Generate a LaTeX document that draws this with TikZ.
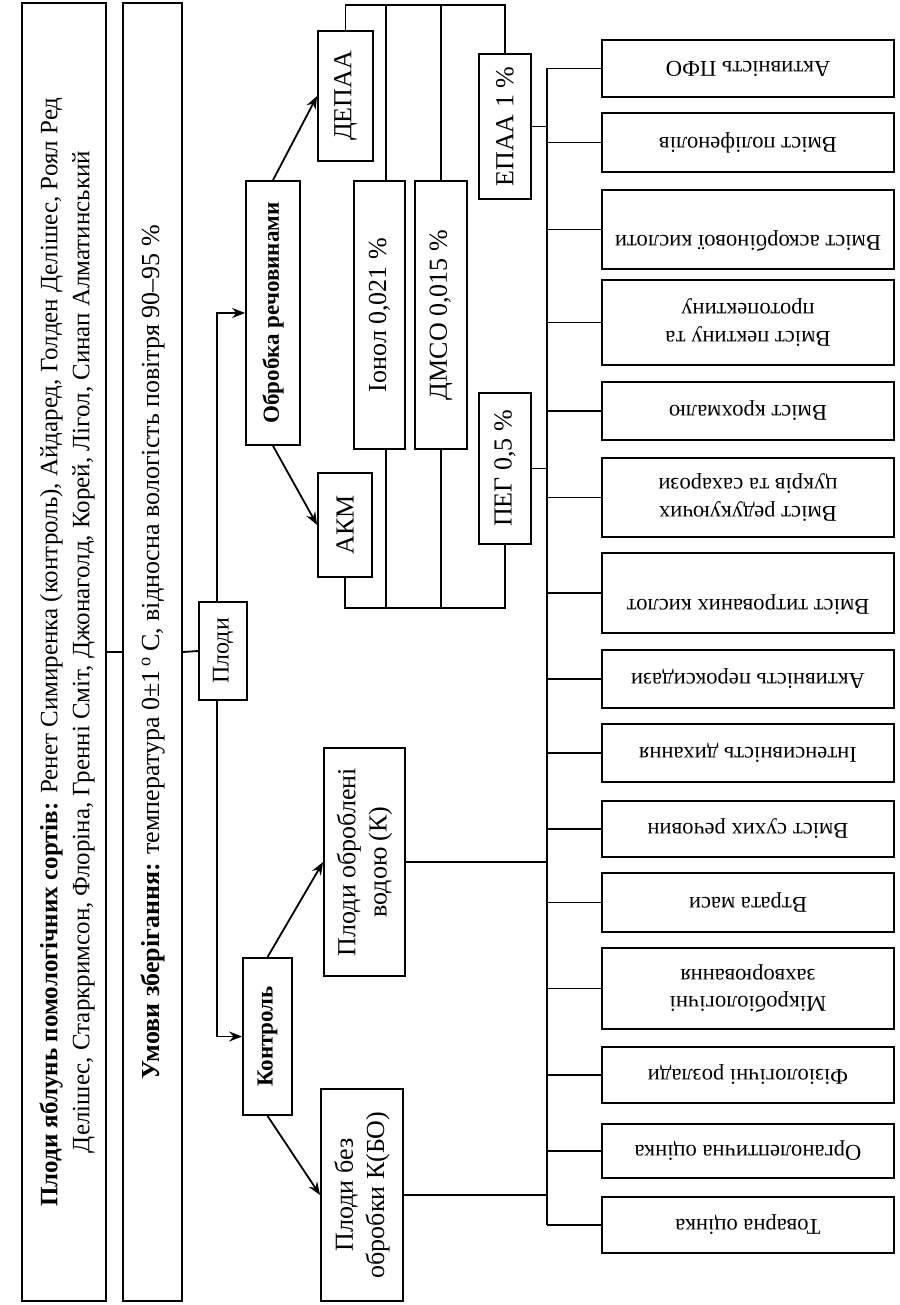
\documentclass[tikz,border=0pt]{standalone}
\usepackage{fontspec}
\setmainfont{Liberation Serif}
\usetikzlibrary{fit,arrows.meta}
\begin{document}
\begin{tikzpicture}[x=0.5pt,y=-0.5pt,
  bx/.style={draw, line width=0.9pt, inner sep=0pt},
  tv/.style={rotate=90, inner sep=0pt, align=center},
  tr/.style={rotate=180, inner sep=0pt, align=center, font=\fontsize{11.3}{13.6}\selectfont},
  ln/.style={line width=0.9pt},
  arr/.style={line width=0.9pt, -{Stealth[length=6.5pt,width=5pt,inset=2.2pt]}},
  mf/.style={font=\fontsize{13}{15.6}\selectfont}]
\useasboundingbox (0,0) rectangle (899,1305);

% left bands
\node[bx, fit={(22,3)(106,1301)}] (a) {};
\node[tv, font=\fontsize{12.5}{16}\selectfont] (at) at ([xshift=1.5pt]a.center) {\textbf{Плоди яблунь помологічних сортів:} Ренет Симиренка (контроль), Айдаред, Голден Делішес, Роял Ред\\ Делішес, Старкримсон, Флоріна, Гренні Сміт, Джонаголд, Корей, Лігол, Синап Алматинський};
\node[bx, fit={(123,3)(182,1301)}] (b) {};
\node[tv, mf] (bt-t) at (b.center) {\textbf{Умови зберігання:} температура 0±1\,\textsuperscript{o}\,С, відносна вологість повітря 90–95 \%};

\node[bx, fit={(199,602)(247,700)}] (plody) {};
\node[tv, font=\fontsize{12}{14}\selectfont] (plody-t) at (plody.center) {Плоди};
\node[bx, fit={(246,181)(300,445)}] (obr) {};
\node[tv, font=\fontsize{11.5}{14}\selectfont] (obr-t) at (obr.center) {\textbf{Обробка речовинами}};
\node[bx, fit={(243,958)(292,1115)}] (kontr) {};
\node[tv, font=\fontsize{11.5}{14}\selectfont] (kontr-t) at (kontr.center) {\textbf{Контроль}};

\node[bx, fit={(318,31)(373,161)}] (depaa) {};
\node[tv, mf] (depaa-t) at (depaa.center) {ДЕПАА};
\node[bx, fit={(318,473)(372,577)}] (akm) {};
\node[tv, mf] (akm-t) at (akm.center) {АКМ};
\node[bx, fit={(354,181)(405,449)}] (ionol) {};
\node[tv, mf] (ionol-t) at (ionol.center) {Іонол 0,021 \%};
\node[bx, fit={(415,181)(467,449)}] (dmso) {};
\node[tv, mf] (dmso-t) at (dmso.center) {ДМСО 0,015 \%};
\node[bx, fit={(479,54)(531,199)}] (epaa) {};
\node[tv, mf] (epaa-t) at (epaa.center) {ЕПАА 1 \%};
\node[bx, fit={(479,393)(531,544)}] (peg) {};
\node[tv, mf] (peg-t) at (peg.center) {ПЕГ 0,5 \%};

\node[bx, fit={(324,748)(405,976)}] (vod) {};
\node[tv, mf] (vod-t) at (vod.center) {Плоди оброблені\\ водою (К)};
\node[bx, fit={(321,1089)(403,1301)}] (kbo) {};
\node[tv, mf] (kbo-t) at (kbo.center) {Плоди без\\ обробки К(БО)};

% right column
\node[bx, fit={(602,40)(894,97)}] (r1) {};
\node[tr] (r1-t) at (r1.center) {Активність ПФО};
\node[bx, fit={(602,113)(894,172)}] (r2) {};
\node[tr] (r2-t) at (r2.center) {Вміст поліфенолів};
\node[bx, fit={(602,190)(894,269)}] (r3) {};
\node[tr] (r3-t) at (r3.center) {Вміст аскорбінової кислоти\\ \mbox{}};
\node[bx, fit={(602,280)(894,365)}] (r4) {};
\node[tr] (r4-t) at (r4.center) {Вміст пектину та\\ протопектину};
\node[bx, fit={(602,382)(894,440)}] (r5) {};
\node[tr] (r5-t) at (r5.center) {Вміст крохмалю};
\node[bx, fit={(602,458)(894,537)}] (r6) {};
\node[tr] (r6-t) at (r6.center) {Вміст редукуючих\\ цукрів та сахарози};
\node[bx, fit={(602,553)(894,633)}] (r7) {};
\node[tr] (r7-t) at (r7.center) {Вміст титрованих кислот\\ \mbox{}};
\node[bx, fit={(602,650)(894,708)}] (r8) {};
\node[tr] (r8-t) at (r8.center) {Активність пероксидази};
\node[bx, fit={(602,724)(894,782)}] (r9) {};
\node[tr] (r9-t) at (r9.center) {Інтенсивність дихання};
\node[bx, fit={(602,801)(894,857)}] (r10) {};
\node[tr] (r10-t) at (r10.center) {Вміст сухих речовин};
\node[bx, fit={(602,873)(894,932)}] (r11) {};
\node[tr] (r11-t) at (r11.center) {Втрата маси};
\node[bx, fit={(602,948)(894,1029)}] (r12) {};
\node[tr] (r12-t) at (r12.center) {Мікробіологічні\\ захворювання};
\node[bx, fit={(602,1047)(894,1103)}] (r13) {};
\node[tr] (r13-t) at (r13.center) {Фізіологічні розлади};
\node[bx, fit={(602,1124)(894,1178)}] (r14) {};
\node[tr] (r14-t) at (r14.center) {Органолептична оцінка};
\node[bx, fit={(602,1197)(894,1253)}] (r15) {};
\node[tr] (r15-t) at (r15.center) {Товарна оцінка};

% connectors
\coordinate (pv) at (217,0);
\coordinate (sp) at (547,0);
\coordinate (bt) at (0,5);
\coordinate (bb) at (0,608);

\draw[ln] (a.east) -- (b.west);
\draw[ln] (b.east) -- (plody.west);
\draw[arr] (plody.north -| pv) |- (obr.west);
\draw[arr] (plody.south -| pv) |- (kontr.west);
\draw[arr] (obr.north) -- (depaa.west);
\draw[arr] (obr.south) -- (akm.west);
\draw[arr] (kontr.north) -- (vod.west);
\draw[arr] (kontr.south) -- (kbo.west);

\draw[ln] (depaa.north) -- (depaa.north |- bt) -- (epaa.north |- bt) -- (epaa.north);
\draw[ln] ([xshift=3.2pt]ionol.north) -- ([xshift=3.2pt]ionol.north |- bt);
\draw[ln] (dmso.north) -- (dmso.north |- bt);
\draw[ln] (akm.south) -- (akm.south |- bb) -- (peg.south |- bb) -- (peg.south);
\draw[ln] ([xshift=3.2pt]ionol.south) -- ([xshift=3.2pt]ionol.south |- bb);
\draw[ln] (dmso.south) -- (dmso.south |- bb);

\draw[ln] (r1.west -| sp) -- (r15.west -| sp);
\foreach \r in {r1,r2,r3,r4,r5,r6,r7,r8,r9,r10,r11,r12,r13,r14,r15}
  \draw[ln] (\r.west) -- (\r.west -| sp);
\draw[ln] (epaa.east) -- (epaa.east -| sp);
\draw[ln] (peg.east) -- (peg.east -| sp);
\draw[ln] (vod.east) -- (vod.east -| sp);
\draw[ln] (kbo.east) -- (kbo.east -| sp);
\end{tikzpicture}
\end{document}
